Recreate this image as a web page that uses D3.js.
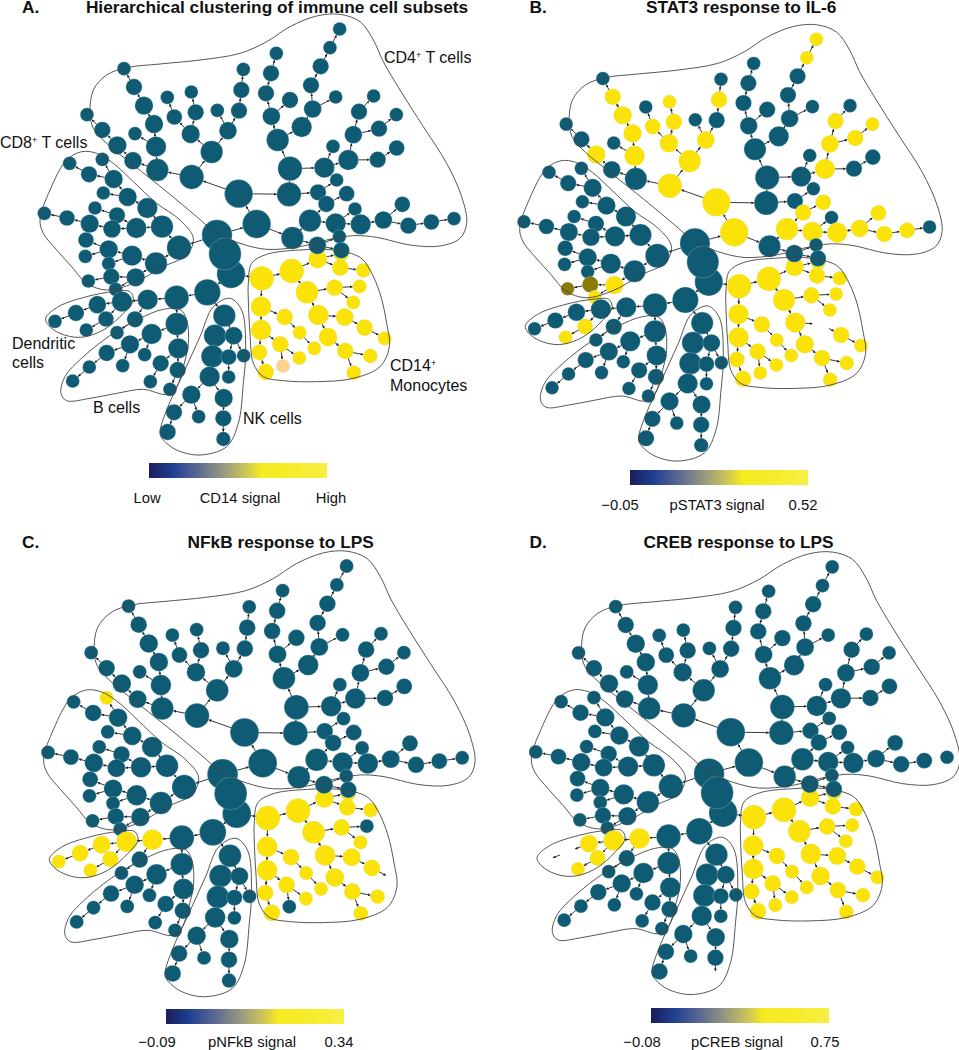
<!DOCTYPE html>
<html><head><meta charset="utf-8">
<script src="https://cdn.jsdelivr.net/npm/d3@7/dist/d3.min.js"></script>
<style>html,body{margin:0;padding:0;background:#fff}svg{display:block}text{font-family:"Liberation Sans",Arial,sans-serif;fill:#111}</style>
</head><body><svg id="c" width="959" height="1050"></svg>
<script>
// node rows: [id, parent, x, y, size] (layout units, 3 per pixel)
const hubNodes=[[200,null,651,705,44],[202,201,693,822,41],[203,202,622,877,38],[204,203,530,893,35]];
const hubTopNodes=[[201,200,675,762,47]];
const cd4Nodes=[[2,200,770,672,41],[3,2,716,581,41],[4,3,575,531,35],[5,4,472,510,32],[6,5,399,482,25],[7,6,352,436,26],[8,7,307,390,23],[9,8,261,344,19],[10,5,468,440,29],[11,10,405,401,19],[12,10,462,372,26],[13,12,432,317,26],[14,13,402,261,23],[15,14,372,206,19],[16,4,635,456,32],[17,16,572,402,26],[18,17,523,351,22],[19,18,502,292,19],[20,17,587,337,23],[21,20,574,276,19],[22,16,684,392,25],[23,22,652,331,19],[24,22,717,332,23],[25,24,724,270,23],[26,25,730,208,19],[27,3,867,583,35],[28,27,870,506,35],[29,28,833,420,32],[30,29,814,349,25],[31,30,798,280,23],[32,31,813,220,23],[33,32,829,160,19],[34,30,870,300,23],[35,29,905,381,29],[36,35,938,327,25],[37,36,933,256,23],[38,37,962,199,23],[39,38,990,143,19],[40,39,1019,87,19],[41,36,1007,291,19],[42,28,973,503,29],[43,42,1045,480,29],[44,42,999,439,19],[45,43,1060,404,25],[46,45,1077,335,23],[47,46,1121,288,19],[48,45,1137,386,23],[49,48,1189,344,19],[50,43,1133,479,23],[51,50,1190,444,22],[52,27,954,577,23],[53,52,1010,540,19],[57,2,877,714,32],[55,57,930,662,32],[54,55,979,612,23],[56,54,1040,581,22],[58,55,1007,670,29],[59,58,1065,627,19],[60,58,1082,673,29],[61,60,1150,660,25],[62,61,1207,613,22],[63,61,1225,677,23],[64,63,1294,666,22],[65,64,1362,656,19],[66,57,952,736,25],[67,66,1018,710,19],[68,66,1024,751,23]];
const monocyteNodes=[[70,202,785,835,35],[71,70,875,813,35],[72,71,953,777,26],[73,72,1021,803,23],[74,72,1024,760,22],[75,73,1090,811,20],[76,71,921,877,32],[77,76,1004,863,23],[78,77,1079,859,19],[79,77,1060,907,19],[80,76,955,945,29],[81,80,1034,951,25],[82,81,1094,983,23],[83,82,1154,1015,19],[84,80,984,1011,26],[85,84,1036,1053,23],[86,85,1111,1068,20],[87,85,1061,1118,20],[88,70,783,920,29],[89,88,854,951,23],[90,89,899,998,19],[91,90,943,1045,19],[92,88,783,990,29],[93,92,841,1033,23],[94,93,898,1074,19],[95,93,849,1098,19],[96,92,778,1057,22],[97,96,797,1116,23]];
const dendriticNodes=[[101,204,443,899,29],[102,101,366,905,29],[103,102,292,914,25],[104,103,228,939,23],[105,104,165,964,19],[106,102,318,957,22],[107,106,259,990,19],[108,101,405,958,23],[109,108,351,998,19]];
const bCellNodes=[[110,204,530,972,32],[111,110,455,1002,29],[112,111,390,1033,26],[113,112,320,1059,23],[114,113,268,1101,19],[115,114,218,1143,19],[116,112,368,1097,19],[117,110,535,1045,29],[118,111,434,1064,19],[119,117,482,1090,23],[120,119,451,1145,19],[121,117,533,1110,23],[122,121,510,1168,19]];
const nkCellNodes=[[130,203,673,947,32],[131,130,645,1007,32],[132,130,701,1007,25],[133,131,637,1069,32],[134,132,686,1071,22],[135,132,731,1067,19],[136,133,629,1130,29],[137,134,686,1131,19],[138,136,574,1184,26],[139,136,671,1194,26],[140,138,522,1237,23],[141,138,596,1250,19],[142,140,503,1296,23],[143,139,670,1255,23],[144,143,670,1317,20]];
const cd8Nodes=[[150,200,537,743,35],[151,150,486,680,32],[152,151,442,624,29],[153,152,383,591,26],[154,153,341,537,26],[155,154,307,478,19],[156,154,267,523,23],[157,156,209,490,19],[158,153,310,579,19],[159,151,409,684,29],[160,159,351,646,23],[161,160,285,624,19],[162,159,336,687,25],[163,162,269,671,26],[164,163,201,654,22],[165,164,133,640,19],[166,150,468,790,32],[167,166,396,767,29],[168,167,326,748,26],[169,168,258,720,22],[170,168,256,769,19],[171,167,326,791,19],[172,166,407,832,26],[173,172,334,830,23],[174,173,265,843,19],[175,172,347,868,19]];

// cell-subset outlines (layout units)
const cd4Outline=[[270,340],[280,270],[320,225],[380,203],[480,192],[600,180],[720,160],[800,125],[870,80],[950,48],[1020,43],[1080,65],[1120,120],[1150,185],[1200,270],[1270,380],[1340,490],[1385,590],[1400,670],[1380,715],[1320,738],[1230,735],[1130,712],[1060,707],[980,720],[900,740],[800,748],[720,730],[650,700],[590,650],[500,575],[400,495],[320,430],[280,385]];
const cd8Outline=[[120,660],[150,570],[200,480],[245,455],[290,460],[340,490],[400,545],[470,610],[540,660],[580,715],[560,765],[490,800],[400,850],[320,870],[260,850],[215,800],[170,750],[130,700]];
const dendriticOutline=[[137,955],[175,920],[260,890],[340,875],[390,875],[400,900],[370,940],[310,990],[240,1012],[180,1000],[145,975]];
const bCellOutline=[[183,1180],[195,1130],[250,1070],[340,1000],[420,955],[490,928],[540,928],[560,960],[565,1030],[550,1100],[530,1160],[500,1183],[430,1168],[350,1180],[270,1195],[200,1202]];
const nkCellOutline=[[480,1300],[500,1230],[550,1120],[600,1010],[640,920],[690,895],[725,930],[737,1050],[730,1150],[715,1270],[680,1340],[600,1365],[530,1350],[490,1320]];
const monocyteOutline=[[745,850],[755,790],[800,763],[900,750],[1000,750],[1080,772],[1110,810],[1140,880],[1160,970],[1168,1040],[1140,1100],[1060,1135],[950,1145],[850,1142],[790,1130],[760,1090],[750,1000],[745,900]];

// high-signal nodes per panel
const monocyteIds=monocyteNodes.map(d=>d[0]);
const highA=monocyteIds.filter(d=>d!==95);
const paleA=[95];
const highB=[40,39,14,13,12,10,7,4,3,2,16,17,18,20,21,22,25,43,45,46,48,49,54,56,55,58,60,61,62,63,64,172,175,106,107,...monocyteIds.filter(d=>d!==81)];
const oliveB=[173,174];
const absentB=[81];
const highC=[155,101,102,103,104,105,106,107,...monocyteIds.filter(d=>![78,95,83].includes(d))];
const absentC=[83];
const highD=[101,102,103,106,107,...monocyteIds];
const absentD=[104,105,144];

const panelTitles=["Hierarchical clustering of immune cell subsets","STAT3 response to IL-6","NFkB response to LPS","CREB response to LPS"];
const panelLetters=["A.","B.","C.","D."];
const barMarkers=[["Low","CD14 signal","High"],["\u22120.05","pSTAT3 signal","0.52"],["\u22120.09","pNFkB signal","0.34"],["\u22120.08","pCREB signal","0.75"]];
const gradientStops=[[0,"#1b1d5c"],[0.13,"#1f3f92"],[0.28,"#5d6a92"],[0.42,"#989a80"],[0.55,"#cfc755"],[0.63,"#f6ea1f"],[0.8,"#f6ec2a"],[1,"#f7ef45"]];

const panels=[
 {k:1,tx:0,ty:0,high:highA,pale:paleA,olive:[],absent:[],tTx:277,tTy:13,lx:22,bar:[149,463],mk:[147,240,331],mky:503},
 {k:.99,tx:480.1,ty:10.6,high:highB,pale:[],olive:oliveB,absent:absentB,tTx:741.2,tTy:13,lx:529.5,bar:[630,470],mk:[620,717,803],mky:510},
 {k:1.011,tx:3.2,ty:536.7,high:highC,pale:[],olive:[],absent:absentC,tTx:280.7,tTy:548,lx:22,bar:[166,1009],mk:[157,252,339],mky:1047},
 {k:1.004,tx:491.2,ty:537.7,high:highD,pale:[],olive:[],absent:absentD,tTx:738.6,tTy:548,lx:529.5,bar:[651,1008],mk:[642,737,825],mky:1047}
];

const svg=d3.select("#c");
const defs=svg.append("defs");
const grad=defs.append("linearGradient").attr("id","sig");
grad.selectAll("stop").data(gradientStops).join("stop").attr("offset",d=>d[0]).attr("stop-color",d=>d[1]);
defs.append("marker").attr("id","arr").attr("viewBox","0 0 6 6").attr("refX",6).attr("refY",3).attr("markerWidth",2.8).attr("markerHeight",2.8).attr("markerUnits","userSpaceOnUse").attr("orient","auto")
 .append("path").attr("d","M0,0L6,3L0,6Z").attr("fill","#222");

const drawOrder=[...monocyteNodes,...hubNodes,...cd4Nodes,...cd8Nodes,...dendriticNodes,...bCellNodes,...nkCellNodes,...hubTopNodes]
  .map(([id,parent,x,y,size])=>({id,parent,x,y,size}));
const byId=new Map(drawOrder.map(d=>[d.id,d]));
const outlines=[cd4Outline,cd8Outline,dendriticOutline,bCellOutline,nkCellOutline,monocyteOutline];
const TEAL="#0f5b74",YEL="#fbe208",PALE="#fbd38c",OLIVE="#8a7a06";

panels.forEach((p,pi)=>{
 const x=d3.scaleLinear().domain([0,1440]).range([p.tx,p.tx+480*p.k]);
 const y=d3.scaleLinear().domain([0,1440]).range([p.ty,p.ty+480*p.k]);
 const r=d3.scaleLinear().domain([0,3]).range([0.5,0.5+p.k]);
 const g=svg.append("g");
 const fill=d=>p.absent.includes(d.id)?"#fff":p.high.includes(d.id)?YEL:p.pale.includes(d.id)?PALE:p.olive.includes(d.id)?OLIVE:TEAL;
 const edges=drawOrder.filter(d=>d.parent!==null&&!(pi===3&&d.id===65));
 g.append("g").selectAll("line").data(edges).join("line")
  .attr("x1",d=>x(byId.get(d.parent).x)).attr("y1",d=>y(byId.get(d.parent).y))
  .attr("x2",d=>{const q=byId.get(d.parent),dx=x(d.x)-x(q.x),dy=y(d.y)-y(q.y),l=Math.hypot(dx,dy);return x(d.x)-dx/l*r(d.size)})
  .attr("y2",d=>{const q=byId.get(d.parent),dx=x(d.x)-x(q.x),dy=y(d.y)-y(q.y),l=Math.hypot(dx,dy);return y(d.y)-dy/l*r(d.size)})
  .attr("stroke","#222").attr("stroke-width",.9).attr("marker-end","url(#arr)");
 g.append("g").selectAll("circle").data(drawOrder).join("circle")
  .attr("cx",d=>x(d.x)).attr("cy",d=>y(d.y)).attr("r",d=>r(d.size))
  .attr("fill",fill)
  .attr("stroke",d=>p.absent.includes(d.id)?"none":"#cfe3e8").attr("stroke-opacity",.45).attr("stroke-width",.6);
 const line=d3.line().x(d=>x(d[0])).y(d=>y(d[1])).curve(d3.curveCatmullRomClosed.alpha(.5));
 g.append("g").selectAll("path").data(outlines).join("path").attr("d",line).attr("fill","none").attr("stroke","#444").attr("stroke-width",.9);

 svg.append("text").attr("x",p.lx).attr("y",p.tTy).attr("font-size",17.3).attr("font-weight","bold").text(panelLetters[pi]);
 svg.append("text").attr("x",p.tTx).attr("y",p.tTy).attr("text-anchor","middle").attr("font-size",17.3).attr("font-weight","bold").text(panelTitles[pi]);
 svg.append("rect").attr("x",p.bar[0]).attr("y",p.bar[1]).attr("width",178).attr("height",15).attr("fill","url(#sig)");
 svg.append("g").selectAll("text").data(barMarkers[pi]).join("text").attr("x",(d,i)=>p.mk[i]).attr("y",p.mky).attr("text-anchor","middle").attr("font-size",14.8).text(d=>d);
});

// cell-subset names in panel A
const sup=(el,base,rest)=>{el.append("tspan").text(base);el.append("tspan").attr("dy",-5).attr("font-size",9).text("+");if(rest)el.append("tspan").attr("dy",5).text(rest)};
const lab=(x,y)=>svg.append("text").attr("x",x).attr("y",y).attr("font-size",16);
sup(lab(384,63),"CD4"," T cells");
sup(lab(0,148),"CD8"," T cells");
lab(12,349).text("Dendritic");lab(12,368).text("cells");
lab(93,413).text("B cells");lab(243,424).text("NK cells");
sup(lab(390,371),"CD14");lab(390,391).text("Monocytes");
</script></body></html>
